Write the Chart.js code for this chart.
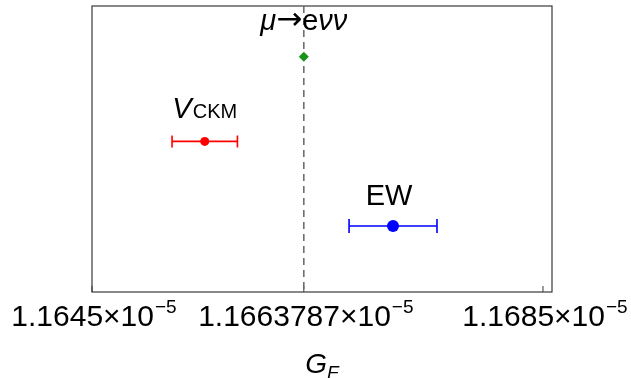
<!DOCTYPE html>
<html>
<head>
<meta charset="utf-8">
<script src="https://cdn.jsdelivr.net/npm/chart.js@4/dist/chart.umd.min.js"></script>
<style>
  body { margin: 0; background: #fff; }
  canvas { display: block; }
</style>
</head>
<body>
<canvas id="gfChart" width="631" height="378"></canvas>
<script>
// values in units of 1e-5
var categories = ['μ→eνν', 'V_CKM', 'EW'];
var rowPos = [3, 2, 1];
var centralValues = [1.1663787, 1.1655, 1.16717];
var errors = [0, 0.00029, 0.00039];
var xTicks = [1.1645, 1.1663787, 1.1685];
var xRange = [1.1645, 1.16858];
var yRange = [0.22, 3.6];

var colors = ['#179317', '#ff0000', '#0000ff'];
var FONT = '"Liberation Sans", Arial, sans-serif';

// draws a row of text pieces (different fonts / raised parts) centred on x
function drawRuns(ctx, runs, x, y) {
    var total = 0;
    runs.forEach(function(r) {
        ctx.font = r.font;
        r.w = ctx.measureText(r.text).width;
        total += r.w + (r.gap || 0);
    });
    var cx = x - total / 2;
    ctx.textBaseline = 'alphabetic';
    ctx.textAlign = 'left';
    runs.forEach(function(r) {
        ctx.font = r.font;
        cx += (r.gap || 0);
        ctx.fillText(r.text, cx, y - (r.dy || 0));
        cx += r.w;
    });
}

function tickRuns(v) {
    return [
        { text: String(v) + '×10', font: '30px ' + FONT },
        { text: '−5', font: '19px ' + FONT, dy: 13, gap: 1 }
    ];
}

var labelRuns = {
    'μ→eνν': [
        { text: 'μ', font: 'italic 29px ' + FONT },
        { text: '→', font: '31px "DejaVu Sans", sans-serif', dy: 1 },
        { text: 'e', font: '29px ' + FONT },
        { text: 'νν', font: 'italic 29px ' + FONT }
    ],
    'V_CKM': [
        { text: 'V', font: 'italic 29px ' + FONT },
        { text: 'CKM', font: '20px ' + FONT, gap: 1 }
    ],
    'EW': [
        { text: 'EW', font: '29px ' + FONT }
    ]
};
var labelLift = [27, 23, 21];
var labelShift = [0, 0, -4];

var errorBars = {
    id: 'errorBars',
    beforeDatasetsDraw: function(chart) {
        var ctx = chart.ctx;
        var xs = chart.scales.x, ys = chart.scales.y;
        var area = chart.chartArea;
        ctx.save();
        // frame
        ctx.strokeStyle = '#3a3a3a';
        ctx.lineWidth = 1.2;
        ctx.strokeRect(area.left, area.top, area.right - area.left, area.bottom - area.top);
        // small ticks on the bottom edge
        ctx.lineWidth = 1;
        xTicks.forEach(function(v) {
            var px = xs.getPixelForValue(v);
            ctx.beginPath();
            ctx.moveTo(px, area.bottom);
            ctx.lineTo(px, area.bottom - 6);
            ctx.stroke();
        });
        // reference dashed line
        var lx = xs.getPixelForValue(centralValues[0]);
        ctx.strokeStyle = '#666';
        ctx.lineWidth = 1.5;
        ctx.setLineDash([7, 5]);
        ctx.beginPath();
        ctx.moveTo(lx, area.top);
        ctx.lineTo(lx, area.bottom);
        ctx.stroke();
        ctx.setLineDash([]);
        // horizontal error bars
        ctx.lineWidth = 1.6;
        centralValues.forEach(function(c, i) {
            if (!errors[i]) return;
            var y = ys.getPixelForValue(rowPos[i]);
            var x0 = xs.getPixelForValue(c - errors[i]);
            var x1 = xs.getPixelForValue(c + errors[i]);
            var cap = i === 2 ? 7 : 6;
            ctx.strokeStyle = colors[i];
            ctx.beginPath();
            ctx.moveTo(x0, y); ctx.lineTo(x1, y);
            ctx.moveTo(x0, y - cap); ctx.lineTo(x0, y + cap);
            ctx.moveTo(x1, y - cap); ctx.lineTo(x1, y + cap);
            ctx.stroke();
        });
        ctx.restore();
    },
    afterDraw: function(chart) {
        var ctx = chart.ctx;
        var xs = chart.scales.x, ys = chart.scales.y;
        var area = chart.chartArea;
        ctx.save();
        ctx.fillStyle = '#000';
        // tick labels
        xs.ticks.forEach(function(t) {
            drawRuns(ctx, tickRuns(t.value), xs.getPixelForValue(t.value) + 2, area.bottom + 34);
        });
        // axis title G_F
        drawRuns(ctx, [
            { text: 'G', font: 'italic 28px ' + FONT },
            { text: 'F', font: 'italic 19px ' + FONT, dy: -6 }
        ], (area.left + area.right) / 2, 373);
        // point labels
        categories.forEach(function(name, i) {
            var px = xs.getPixelForValue(centralValues[i]) + labelShift[i];
            var py = ys.getPixelForValue(rowPos[i]) - labelLift[i];
            drawRuns(ctx, labelRuns[name], px, py);
        });
        ctx.restore();
    }
};

var datasets = categories.map(function(name, i) {
    return {
        label: name,
        data: [{ x: centralValues[i], y: rowPos[i] }],
        pointStyle: i === 0 ? 'rectRot' : 'circle',
        pointRadius: i === 0 ? 5 : (i === 1 ? 4.5 : 6),
        backgroundColor: colors[i],
        borderColor: colors[i],
        borderWidth: 0
    };
});

new Chart(document.getElementById('gfChart'), {
    type: 'scatter',
    data: { datasets: datasets },
    options: {
        responsive: false,
        animation: false,
        layout: { padding: { left: 92, right: 79, top: 6, bottom: 0 } },
        plugins: {
            legend: { display: false },
            tooltip: { enabled: false }
        },
        scales: {
            x: {
                type: 'linear',
                min: xRange[0],
                max: xRange[1],
                grid: { display: false },
                border: { display: false },
                ticks: { display: false },
                afterBuildTicks: function(scale) {
                    scale.ticks = xTicks.map(function(v) { return { value: v }; });
                },
                afterFit: function(scale) { scale.height = 86; }
            },
            y: {
                type: 'linear',
                display: false,
                min: yRange[0],
                max: yRange[1]
            }
        }
    },
    plugins: [errorBars]
});
</script>
</body>
</html>
